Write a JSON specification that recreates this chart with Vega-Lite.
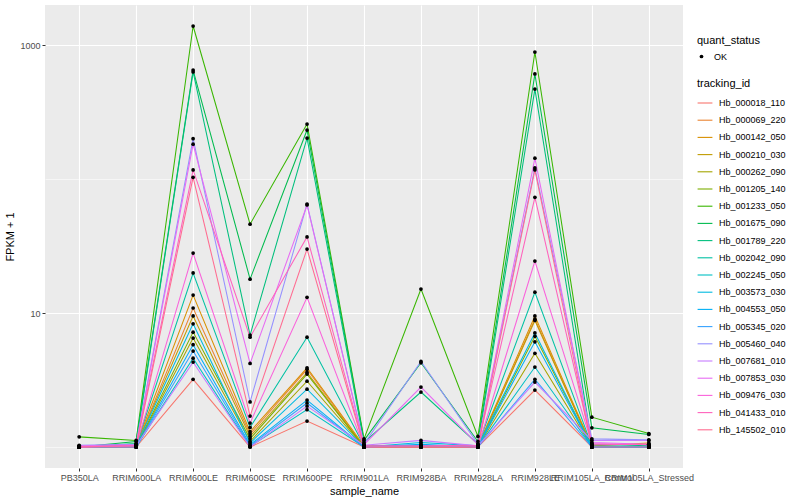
{
  "$schema": "https://vega.github.io/schema/vega-lite/v6.json",
  "autosize": "none",
  "width": 638,
  "height": 463,
  "padding": {"left": 45, "top": 5, "right": 117, "bottom": 32},
  "background": "white",
  "config": {
    "view": {"fill": "#EBEBEB", "stroke": null},
    "font": "Liberation Sans",
    "axis": {
      "domain": false,
      "gridColor": "white",
      "tickColor": "#333333",
      "tickSize": 3,
      "labelColor": "#4D4D4D",
      "labelFont": "Liberation Sans",
      "labelFontSize": 9,
      "labelPadding": 2,
      "titleFont": "Liberation Sans",
      "titleFontSize": 11,
      "titleFontWeight": "normal",
      "titleColor": "black"
    },
    "legend": {
      "titleFont": "Liberation Sans",
      "titleFontSize": 11,
      "titleFontWeight": "normal",
      "titleColor": "black",
      "labelFont": "Liberation Sans",
      "labelFontSize": 9,
      "labelColor": "black"
    }
  },
  "data": {
    "values": [
      {"t":"Hb_000018_110","s":"PB350LA","v":1.0,"q":"OK"},{"t":"Hb_000018_110","s":"RRIM600LA","v":1.0,"q":"OK"},{"t":"Hb_000018_110","s":"RRIM600LE","v":3.2,"q":"OK"},{"t":"Hb_000018_110","s":"RRIM600SE","v":1.0,"q":"OK"},{"t":"Hb_000018_110","s":"RRIM600PE","v":1.56,"q":"OK"},{"t":"Hb_000018_110","s":"RRIM901LA","v":1.0,"q":"OK"},{"t":"Hb_000018_110","s":"RRIM928BA","v":1.0,"q":"OK"},{"t":"Hb_000018_110","s":"RRIM928LA","v":1.0,"q":"OK"},{"t":"Hb_000018_110","s":"RRIM928LE","v":2.66,"q":"OK"},{"t":"Hb_000018_110","s":"RRIM105LA_Control","v":1.0,"q":"OK"},{"t":"Hb_000018_110","s":"RRIM105LA_Stressed","v":1.0,"q":"OK"},
      {"t":"Hb_000069_220","s":"PB350LA","v":1.0,"q":"OK"},{"t":"Hb_000069_220","s":"RRIM600LA","v":1.02,"q":"OK"},{"t":"Hb_000069_220","s":"RRIM600LE","v":10.9,"q":"OK"},{"t":"Hb_000069_220","s":"RRIM600SE","v":1.25,"q":"OK"},{"t":"Hb_000069_220","s":"RRIM600PE","v":3.8,"q":"OK"},{"t":"Hb_000069_220","s":"RRIM901LA","v":1.0,"q":"OK"},{"t":"Hb_000069_220","s":"RRIM928BA","v":1.0,"q":"OK"},{"t":"Hb_000069_220","s":"RRIM928LA","v":1.0,"q":"OK"},{"t":"Hb_000069_220","s":"RRIM928LE","v":9.0,"q":"OK"},{"t":"Hb_000069_220","s":"RRIM105LA_Control","v":1.0,"q":"OK"},{"t":"Hb_000069_220","s":"RRIM105LA_Stressed","v":1.0,"q":"OK"},
      {"t":"Hb_000142_050","s":"PB350LA","v":1.0,"q":"OK"},{"t":"Hb_000142_050","s":"RRIM600LA","v":1.03,"q":"OK"},{"t":"Hb_000142_050","s":"RRIM600LE","v":13.6,"q":"OK"},{"t":"Hb_000142_050","s":"RRIM600SE","v":1.3,"q":"OK"},{"t":"Hb_000142_050","s":"RRIM600PE","v":3.9,"q":"OK"},{"t":"Hb_000142_050","s":"RRIM901LA","v":1.02,"q":"OK"},{"t":"Hb_000142_050","s":"RRIM928BA","v":1.0,"q":"OK"},{"t":"Hb_000142_050","s":"RRIM928LA","v":1.02,"q":"OK"},{"t":"Hb_000142_050","s":"RRIM928LE","v":9.5,"q":"OK"},{"t":"Hb_000142_050","s":"RRIM105LA_Control","v":1.02,"q":"OK"},{"t":"Hb_000142_050","s":"RRIM105LA_Stressed","v":1.07,"q":"OK"},
      {"t":"Hb_000210_030","s":"PB350LA","v":1.0,"q":"OK"},{"t":"Hb_000210_030","s":"RRIM600LA","v":1.02,"q":"OK"},{"t":"Hb_000210_030","s":"RRIM600LE","v":9.5,"q":"OK"},{"t":"Hb_000210_030","s":"RRIM600SE","v":1.2,"q":"OK"},{"t":"Hb_000210_030","s":"RRIM600PE","v":3.6,"q":"OK"},{"t":"Hb_000210_030","s":"RRIM901LA","v":1.0,"q":"OK"},{"t":"Hb_000210_030","s":"RRIM928BA","v":1.0,"q":"OK"},{"t":"Hb_000210_030","s":"RRIM928LA","v":1.0,"q":"OK"},{"t":"Hb_000210_030","s":"RRIM928LE","v":8.8,"q":"OK"},{"t":"Hb_000210_030","s":"RRIM105LA_Control","v":1.0,"q":"OK"},{"t":"Hb_000210_030","s":"RRIM105LA_Stressed","v":1.0,"q":"OK"},
      {"t":"Hb_000262_090","s":"PB350LA","v":1.0,"q":"OK"},{"t":"Hb_000262_090","s":"RRIM600LA","v":1.0,"q":"OK"},{"t":"Hb_000262_090","s":"RRIM600LE","v":6.5,"q":"OK"},{"t":"Hb_000262_090","s":"RRIM600SE","v":1.1,"q":"OK"},{"t":"Hb_000262_090","s":"RRIM600PE","v":3.1,"q":"OK"},{"t":"Hb_000262_090","s":"RRIM901LA","v":1.0,"q":"OK"},{"t":"Hb_000262_090","s":"RRIM928BA","v":1.0,"q":"OK"},{"t":"Hb_000262_090","s":"RRIM928LA","v":1.0,"q":"OK"},{"t":"Hb_000262_090","s":"RRIM928LE","v":5.0,"q":"OK"},{"t":"Hb_000262_090","s":"RRIM105LA_Control","v":1.0,"q":"OK"},{"t":"Hb_000262_090","s":"RRIM105LA_Stressed","v":1.0,"q":"OK"},
      {"t":"Hb_001205_140","s":"PB350LA","v":1.0,"q":"OK"},{"t":"Hb_001205_140","s":"RRIM600LA","v":1.01,"q":"OK"},{"t":"Hb_001205_140","s":"RRIM600LE","v":7.2,"q":"OK"},{"t":"Hb_001205_140","s":"RRIM600SE","v":1.15,"q":"OK"},{"t":"Hb_001205_140","s":"RRIM600PE","v":3.5,"q":"OK"},{"t":"Hb_001205_140","s":"RRIM901LA","v":1.0,"q":"OK"},{"t":"Hb_001205_140","s":"RRIM928BA","v":1.0,"q":"OK"},{"t":"Hb_001205_140","s":"RRIM928LA","v":1.0,"q":"OK"},{"t":"Hb_001205_140","s":"RRIM928LE","v":6.7,"q":"OK"},{"t":"Hb_001205_140","s":"RRIM105LA_Control","v":1.0,"q":"OK"},{"t":"Hb_001205_140","s":"RRIM105LA_Stressed","v":1.0,"q":"OK"},
      {"t":"Hb_001233_050","s":"PB350LA","v":1.19,"q":"OK"},{"t":"Hb_001233_050","s":"RRIM600LA","v":1.12,"q":"OK"},{"t":"Hb_001233_050","s":"RRIM600LE","v":1387,"q":"OK"},{"t":"Hb_001233_050","s":"RRIM600SE","v":46,"q":"OK"},{"t":"Hb_001233_050","s":"RRIM600PE","v":257,"q":"OK"},{"t":"Hb_001233_050","s":"RRIM901LA","v":1.15,"q":"OK"},{"t":"Hb_001233_050","s":"RRIM928BA","v":15.1,"q":"OK"},{"t":"Hb_001233_050","s":"RRIM928LA","v":1.2,"q":"OK"},{"t":"Hb_001233_050","s":"RRIM928LE","v":887,"q":"OK"},{"t":"Hb_001233_050","s":"RRIM105LA_Control","v":1.67,"q":"OK"},{"t":"Hb_001233_050","s":"RRIM105LA_Stressed","v":1.26,"q":"OK"},
      {"t":"Hb_001675_090","s":"PB350LA","v":1.0,"q":"OK"},{"t":"Hb_001675_090","s":"RRIM600LA","v":1.1,"q":"OK"},{"t":"Hb_001675_090","s":"RRIM600LE","v":650,"q":"OK"},{"t":"Hb_001675_090","s":"RRIM600SE","v":17.9,"q":"OK"},{"t":"Hb_001675_090","s":"RRIM600PE","v":232,"q":"OK"},{"t":"Hb_001675_090","s":"RRIM901LA","v":1.12,"q":"OK"},{"t":"Hb_001675_090","s":"RRIM928BA","v":4.25,"q":"OK"},{"t":"Hb_001675_090","s":"RRIM928LA","v":1.1,"q":"OK"},{"t":"Hb_001675_090","s":"RRIM928LE","v":608,"q":"OK"},{"t":"Hb_001675_090","s":"RRIM105LA_Control","v":1.39,"q":"OK"},{"t":"Hb_001675_090","s":"RRIM105LA_Stressed","v":1.24,"q":"OK"},
      {"t":"Hb_001789_220","s":"PB350LA","v":1.0,"q":"OK"},{"t":"Hb_001789_220","s":"RRIM600LA","v":1.06,"q":"OK"},{"t":"Hb_001789_220","s":"RRIM600LE","v":630,"q":"OK"},{"t":"Hb_001789_220","s":"RRIM600SE","v":6.85,"q":"OK"},{"t":"Hb_001789_220","s":"RRIM600PE","v":202,"q":"OK"},{"t":"Hb_001789_220","s":"RRIM901LA","v":1.08,"q":"OK"},{"t":"Hb_001789_220","s":"RRIM928BA","v":2.57,"q":"OK"},{"t":"Hb_001789_220","s":"RRIM928LA","v":1.05,"q":"OK"},{"t":"Hb_001789_220","s":"RRIM928LE","v":469,"q":"OK"},{"t":"Hb_001789_220","s":"RRIM105LA_Control","v":1.05,"q":"OK"},{"t":"Hb_001789_220","s":"RRIM105LA_Stressed","v":1.02,"q":"OK"},
      {"t":"Hb_002042_090","s":"PB350LA","v":1.0,"q":"OK"},{"t":"Hb_002042_090","s":"RRIM600LA","v":1.03,"q":"OK"},{"t":"Hb_002042_090","s":"RRIM600LE","v":19.9,"q":"OK"},{"t":"Hb_002042_090","s":"RRIM600SE","v":1.4,"q":"OK"},{"t":"Hb_002042_090","s":"RRIM600PE","v":6.6,"q":"OK"},{"t":"Hb_002042_090","s":"RRIM901LA","v":1.02,"q":"OK"},{"t":"Hb_002042_090","s":"RRIM928BA","v":1.02,"q":"OK"},{"t":"Hb_002042_090","s":"RRIM928LA","v":1.03,"q":"OK"},{"t":"Hb_002042_090","s":"RRIM928LE","v":14.3,"q":"OK"},{"t":"Hb_002042_090","s":"RRIM105LA_Control","v":1.02,"q":"OK"},{"t":"Hb_002042_090","s":"RRIM105LA_Stressed","v":1.0,"q":"OK"},
      {"t":"Hb_002245_050","s":"PB350LA","v":1.0,"q":"OK"},{"t":"Hb_002245_050","s":"RRIM600LA","v":1.0,"q":"OK"},{"t":"Hb_002245_050","s":"RRIM600LE","v":4.6,"q":"OK"},{"t":"Hb_002245_050","s":"RRIM600SE","v":1.01,"q":"OK"},{"t":"Hb_002245_050","s":"RRIM600PE","v":1.9,"q":"OK"},{"t":"Hb_002245_050","s":"RRIM901LA","v":1.0,"q":"OK"},{"t":"Hb_002245_050","s":"RRIM928BA","v":1.03,"q":"OK"},{"t":"Hb_002245_050","s":"RRIM928LA","v":1.0,"q":"OK"},{"t":"Hb_002245_050","s":"RRIM928LE","v":3.95,"q":"OK"},{"t":"Hb_002245_050","s":"RRIM105LA_Control","v":1.0,"q":"OK"},{"t":"Hb_002245_050","s":"RRIM105LA_Stressed","v":1.0,"q":"OK"},
      {"t":"Hb_003573_030","s":"PB350LA","v":1.0,"q":"OK"},{"t":"Hb_003573_030","s":"RRIM600LA","v":1.02,"q":"OK"},{"t":"Hb_003573_030","s":"RRIM600LE","v":8.3,"q":"OK"},{"t":"Hb_003573_030","s":"RRIM600SE","v":1.07,"q":"OK"},{"t":"Hb_003573_030","s":"RRIM600PE","v":2.7,"q":"OK"},{"t":"Hb_003573_030","s":"RRIM901LA","v":1.0,"q":"OK"},{"t":"Hb_003573_030","s":"RRIM928BA","v":1.08,"q":"OK"},{"t":"Hb_003573_030","s":"RRIM928LA","v":1.02,"q":"OK"},{"t":"Hb_003573_030","s":"RRIM928LE","v":7.1,"q":"OK"},{"t":"Hb_003573_030","s":"RRIM105LA_Control","v":1.0,"q":"OK"},{"t":"Hb_003573_030","s":"RRIM105LA_Stressed","v":1.0,"q":"OK"},
      {"t":"Hb_004553_050","s":"PB350LA","v":1.0,"q":"OK"},{"t":"Hb_004553_050","s":"RRIM600LA","v":1.0,"q":"OK"},{"t":"Hb_004553_050","s":"RRIM600LE","v":5.8,"q":"OK"},{"t":"Hb_004553_050","s":"RRIM600SE","v":1.04,"q":"OK"},{"t":"Hb_004553_050","s":"RRIM600PE","v":2.24,"q":"OK"},{"t":"Hb_004553_050","s":"RRIM901LA","v":1.0,"q":"OK"},{"t":"Hb_004553_050","s":"RRIM928BA","v":1.05,"q":"OK"},{"t":"Hb_004553_050","s":"RRIM928LA","v":1.0,"q":"OK"},{"t":"Hb_004553_050","s":"RRIM928LE","v":6.1,"q":"OK"},{"t":"Hb_004553_050","s":"RRIM105LA_Control","v":1.0,"q":"OK"},{"t":"Hb_004553_050","s":"RRIM105LA_Stressed","v":1.0,"q":"OK"},
      {"t":"Hb_005345_020","s":"PB350LA","v":1.0,"q":"OK"},{"t":"Hb_005345_020","s":"RRIM600LA","v":1.0,"q":"OK"},{"t":"Hb_005345_020","s":"RRIM600LE","v":5.2,"q":"OK"},{"t":"Hb_005345_020","s":"RRIM600SE","v":1.02,"q":"OK"},{"t":"Hb_005345_020","s":"RRIM600PE","v":2.13,"q":"OK"},{"t":"Hb_005345_020","s":"RRIM901LA","v":1.0,"q":"OK"},{"t":"Hb_005345_020","s":"RRIM928BA","v":1.02,"q":"OK"},{"t":"Hb_005345_020","s":"RRIM928LA","v":1.0,"q":"OK"},{"t":"Hb_005345_020","s":"RRIM928LE","v":3.2,"q":"OK"},{"t":"Hb_005345_020","s":"RRIM105LA_Control","v":1.0,"q":"OK"},{"t":"Hb_005345_020","s":"RRIM105LA_Stressed","v":1.0,"q":"OK"},
      {"t":"Hb_005460_040","s":"PB350LA","v":1.03,"q":"OK"},{"t":"Hb_005460_040","s":"RRIM600LA","v":1.05,"q":"OK"},{"t":"Hb_005460_040","s":"RRIM600LE","v":200,"q":"OK"},{"t":"Hb_005460_040","s":"RRIM600SE","v":2.17,"q":"OK"},{"t":"Hb_005460_040","s":"RRIM600PE","v":65,"q":"OK"},{"t":"Hb_005460_040","s":"RRIM901LA","v":1.05,"q":"OK"},{"t":"Hb_005460_040","s":"RRIM928BA","v":4.35,"q":"OK"},{"t":"Hb_005460_040","s":"RRIM928LA","v":1.05,"q":"OK"},{"t":"Hb_005460_040","s":"RRIM928LE","v":121,"q":"OK"},{"t":"Hb_005460_040","s":"RRIM105LA_Control","v":1.15,"q":"OK"},{"t":"Hb_005460_040","s":"RRIM105LA_Stressed","v":1.13,"q":"OK"},
      {"t":"Hb_007681_010","s":"PB350LA","v":1.0,"q":"OK"},{"t":"Hb_007681_010","s":"RRIM600LA","v":1.02,"q":"OK"},{"t":"Hb_007681_010","s":"RRIM600LE","v":4.3,"q":"OK"},{"t":"Hb_007681_010","s":"RRIM600SE","v":1.0,"q":"OK"},{"t":"Hb_007681_010","s":"RRIM600PE","v":2.02,"q":"OK"},{"t":"Hb_007681_010","s":"RRIM901LA","v":1.03,"q":"OK"},{"t":"Hb_007681_010","s":"RRIM928BA","v":1.12,"q":"OK"},{"t":"Hb_007681_010","s":"RRIM928LA","v":1.02,"q":"OK"},{"t":"Hb_007681_010","s":"RRIM928LE","v":3.05,"q":"OK"},{"t":"Hb_007681_010","s":"RRIM105LA_Control","v":1.12,"q":"OK"},{"t":"Hb_007681_010","s":"RRIM105LA_Stressed","v":1.12,"q":"OK"},
      {"t":"Hb_007853_030","s":"PB350LA","v":1.02,"q":"OK"},{"t":"Hb_007853_030","s":"RRIM600LA","v":1.04,"q":"OK"},{"t":"Hb_007853_030","s":"RRIM600LE","v":182,"q":"OK"},{"t":"Hb_007853_030","s":"RRIM600SE","v":4.2,"q":"OK"},{"t":"Hb_007853_030","s":"RRIM600PE","v":64,"q":"OK"},{"t":"Hb_007853_030","s":"RRIM901LA","v":1.04,"q":"OK"},{"t":"Hb_007853_030","s":"RRIM928BA","v":2.8,"q":"OK"},{"t":"Hb_007853_030","s":"RRIM928LA","v":1.04,"q":"OK"},{"t":"Hb_007853_030","s":"RRIM928LE","v":143,"q":"OK"},{"t":"Hb_007853_030","s":"RRIM105LA_Control","v":1.08,"q":"OK"},{"t":"Hb_007853_030","s":"RRIM105LA_Stressed","v":1.05,"q":"OK"},
      {"t":"Hb_009476_030","s":"PB350LA","v":1.0,"q":"OK"},{"t":"Hb_009476_030","s":"RRIM600LA","v":1.02,"q":"OK"},{"t":"Hb_009476_030","s":"RRIM600LE","v":28,"q":"OK"},{"t":"Hb_009476_030","s":"RRIM600SE","v":1.51,"q":"OK"},{"t":"Hb_009476_030","s":"RRIM600PE","v":13.1,"q":"OK"},{"t":"Hb_009476_030","s":"RRIM901LA","v":1.0,"q":"OK"},{"t":"Hb_009476_030","s":"RRIM928BA","v":1.0,"q":"OK"},{"t":"Hb_009476_030","s":"RRIM928LA","v":1.0,"q":"OK"},{"t":"Hb_009476_030","s":"RRIM928LE","v":24.4,"q":"OK"},{"t":"Hb_009476_030","s":"RRIM105LA_Control","v":1.06,"q":"OK"},{"t":"Hb_009476_030","s":"RRIM105LA_Stressed","v":1.04,"q":"OK"},
      {"t":"Hb_041433_010","s":"PB350LA","v":1.0,"q":"OK"},{"t":"Hb_041433_010","s":"RRIM600LA","v":1.03,"q":"OK"},{"t":"Hb_041433_010","s":"RRIM600LE","v":117,"q":"OK"},{"t":"Hb_041433_010","s":"RRIM600SE","v":6.6,"q":"OK"},{"t":"Hb_041433_010","s":"RRIM600PE","v":37,"q":"OK"},{"t":"Hb_041433_010","s":"RRIM901LA","v":1.02,"q":"OK"},{"t":"Hb_041433_010","s":"RRIM928BA","v":1.02,"q":"OK"},{"t":"Hb_041433_010","s":"RRIM928LA","v":1.03,"q":"OK"},{"t":"Hb_041433_010","s":"RRIM928LE","v":73,"q":"OK"},{"t":"Hb_041433_010","s":"RRIM105LA_Control","v":1.04,"q":"OK"},{"t":"Hb_041433_010","s":"RRIM105LA_Stressed","v":1.05,"q":"OK"},
      {"t":"Hb_145502_010","s":"PB350LA","v":1.0,"q":"OK"},{"t":"Hb_145502_010","s":"RRIM600LA","v":1.0,"q":"OK"},{"t":"Hb_145502_010","s":"RRIM600LE","v":103,"q":"OK"},{"t":"Hb_145502_010","s":"RRIM600SE","v":1.7,"q":"OK"},{"t":"Hb_145502_010","s":"RRIM600PE","v":30,"q":"OK"},{"t":"Hb_145502_010","s":"RRIM901LA","v":1.0,"q":"OK"},{"t":"Hb_145502_010","s":"RRIM928BA","v":1.0,"q":"OK"},{"t":"Hb_145502_010","s":"RRIM928LA","v":1.0,"q":"OK"},{"t":"Hb_145502_010","s":"RRIM928LE","v":117,"q":"OK"},{"t":"Hb_145502_010","s":"RRIM105LA_Control","v":1.0,"q":"OK"},{"t":"Hb_145502_010","s":"RRIM105LA_Stressed","v":1.0,"q":"OK"}
    ]
  },
  "encoding": {
    "x": {
      "field": "s",
      "type": "nominal",
      "sort": ["PB350LA","RRIM600LA","RRIM600LE","RRIM600SE","RRIM600PE","RRIM901LA","RRIM928BA","RRIM928LA","RRIM928LE","RRIM105LA_Control","RRIM105LA_Stressed"],
      "scale": {"type": "point", "padding": 0.6},
      "axis": {
        "title": "sample_name",
        "labelAngle": 0,
        "labelOverlap": false,
        "labelBound": false,
        "grid": true,
        "gridWidth": 1.1,
        "titlePadding": 3
      }
    },
    "y": {
      "field": "v",
      "type": "quantitative",
      "scale": {"type": "log", "domain": [0.697, 1990], "nice": false, "zero": false},
      "axis": {
        "title": "FPKM + 1",
        "values": [1, 10, 100, 1000],
        "labelExpr": "datum.value == 10 ? '10' : datum.value == 1000 ? '1000' : ''",
        "tickOpacity": {"condition": {"test": "datum.value == 1 || datum.value == 100", "value": 0}, "value": 1},
        "gridWidth": {"condition": {"test": "datum.value == 1 || datum.value == 100", "value": 0.55}, "value": 1.1},
        "grid": true,
        "titlePadding": 4
      }
    }
  },
  "layer": [
    {
      "mark": {"type": "line", "strokeWidth": 1.05},
      "encoding": {
        "color": {
          "field": "t",
          "type": "nominal",
          "scale": {
            "domain": ["Hb_000018_110","Hb_000069_220","Hb_000142_050","Hb_000210_030","Hb_000262_090","Hb_001205_140","Hb_001233_050","Hb_001675_090","Hb_001789_220","Hb_002042_090","Hb_002245_050","Hb_003573_030","Hb_004553_050","Hb_005345_020","Hb_005460_040","Hb_007681_010","Hb_007853_030","Hb_009476_030","Hb_041433_010","Hb_145502_010"],
            "range": ["#F8766D","#EA8331","#D89000","#C09B00","#A3A500","#7CAE00","#39B600","#00BB4E","#00BF7D","#00C1A3","#00BFC4","#00BAE0","#00B0F6","#35A2FF","#9590FF","#C77CFF","#E76BF3","#FA62DB","#FF62BC","#FF6C91"]
          },
          "legend": {
            "title": "tracking_id",
            "orient": "none",
            "legendX": 652,
            "legendY": 73,
            "symbolType": "stroke",
            "symbolSize": 220,
            "symbolStrokeWidth": 1.1,
            "rowPadding": 4.2,
            "titlePadding": 6,
            "labelOffset": 6
          }
        }
      }
    },
    {
      "mark": {"type": "point", "filled": true, "color": "black", "size": 14, "opacity": 1},
      "encoding": {
        "shape": {
          "field": "q",
          "type": "nominal",
          "scale": {"range": ["circle"]},
          "legend": {
            "title": "quant_status",
            "orient": "none",
            "legendX": 652,
            "legendY": 30,
            "symbolFillColor": "black",
            "symbolStrokeColor": "black",
            "symbolSize": 14,
            "titlePadding": 6,
            "labelOffset": 8
          }
        }
      }
    }
  ]
}
